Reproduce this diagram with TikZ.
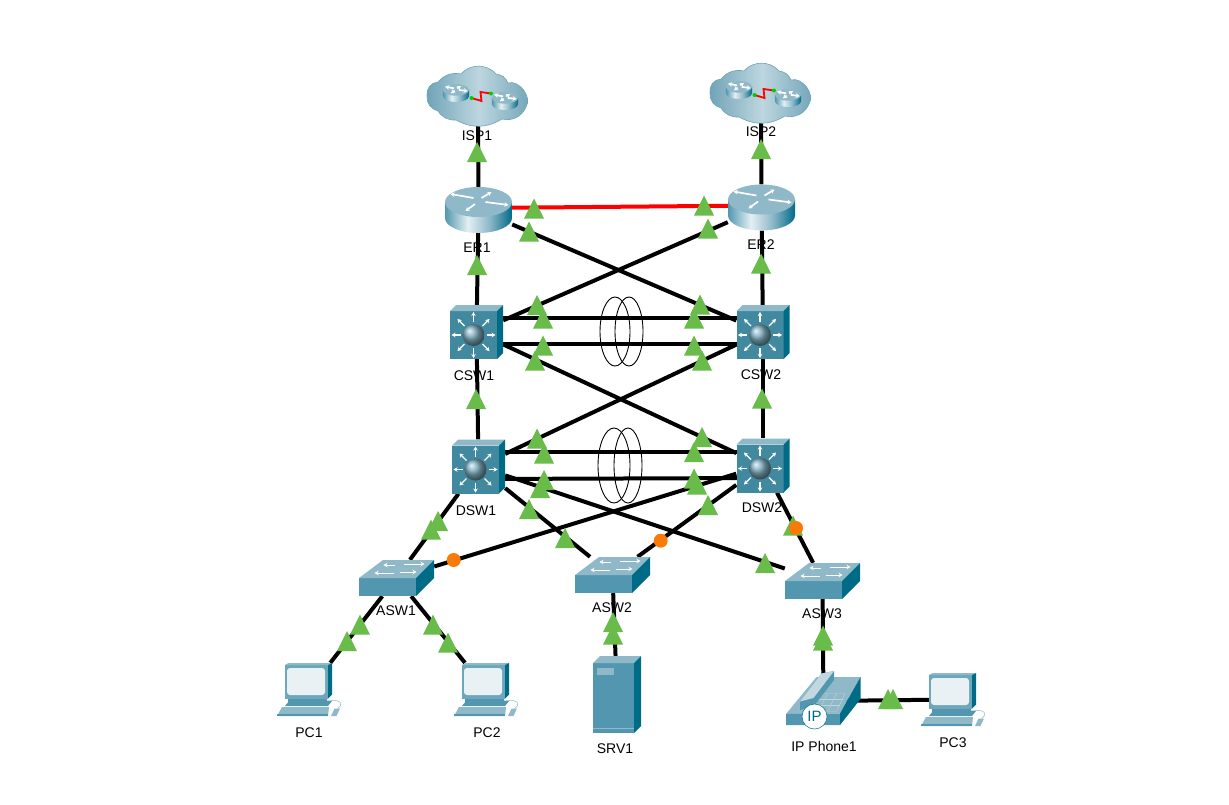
\documentclass[tikz,border=0pt]{standalone}
\usepackage{fontspec}
\setmainfont{Liberation Sans}
\usetikzlibrary{arrows.meta}
\definecolor{icontop}{HTML}{8FB8C9}
\definecolor{iconfront}{HTML}{5297AF}
\definecolor{iconside}{HTML}{006B86}
\definecolor{iconmls}{HTML}{41899F}
\definecolor{markgreen}{HTML}{69BC4A}
\definecolor{markorange}{HTML}{F97A06}
\definecolor{linkred}{HTML}{FF0000}
\definecolor{cloudedge}{HTML}{6FA3B7}
\definecolor{cloudmid}{HTML}{BDD6DF}
\definecolor{routermid}{HTML}{E4EFF3}
\pgfdeclarehorizontalshading{routerbody}{100bp}{color(0bp)=(iconfront); color(25bp)=(iconfront); color(42bp)=(routermid); color(58bp)=(icontop); color(75bp)=(iconside); color(100bp)=(iconside)}
\pgfdeclarehorizontalshading{cloudbody}{100bp}{color(0bp)=(cloudedge); color(25bp)=(cloudedge); color(50bp)=(cloudmid); color(75bp)=(cloudedge); color(100bp)=(cloudedge)}
\def\uptri(#1,#2){\fill[markgreen] (#1-10,#2+10) -- (#1+10,#2+10) -- (#1,#2-10) -- cycle;}
\tikzset{
	link/.style={line width=4pt, color=black},
	redlink/.style={line width=4pt, color=linkred},
	bundle/.style={line width=0.9pt, color=black},
	devlabel/.style={inner sep=0pt, font=\fontsize{14}{16}\selectfont},
	cloudbox/.style={inner sep=0pt, minimum width=103pt, minimum height=57pt},
	routerbox/.style={inner sep=0pt, minimum width=67pt, minimum height=46pt},
	mlsbox/.style={inner sep=0pt, minimum width=53pt, minimum height=54pt},
	accessbox/.style={inner sep=0pt, minimum width=75pt, minimum height=36pt},
	pcbox/.style={inner sep=0pt, minimum width=65pt, minimum height=53pt},
	srvbox/.style={inner sep=0pt, minimum width=48pt, minimum height=77pt},
	phonebox/.style={inner sep=0pt, minimum width=75pt, minimum height=54pt},
	whitearrow/.style={color=white, line width=1.1pt, -{Stealth[length=4pt,width=4.5pt]}},
	routerpic/.pic={
		\path[shading=routerbody] (-33.5,-8) -- (-33.5,8) arc (180:0:33.5 and 15) -- (33.5,-8) -- cycle;
		\fill[icontop] (0,-8) ellipse (33.5 and 15);
		\draw[whitearrow, line width=1.7pt] (-5,-12) -- (-28,-16);
		\draw[whitearrow, line width=1.7pt] (3,-12) -- (13,-18);
		\draw[whitearrow, line width=1.7pt] (-3.5,-6) -- (-13,1);
		\draw[whitearrow, line width=1.7pt] (7,-8) -- (30,-5);
	},
	cloudpic/.pic={
		\path[shading=cloudbody]
			(-51,0) to[bend left=50] (-40,-14) to[bend left=30] (-17,-22) to[bend left=50] (18,-22)
			to[bend left=30] (30,-13) to[bend left=70] (48,11) to[bend left=40] (24,23)
			to[bend left=30] (-22,24) to[bend left=30] (-40,15) to[bend left=40] cycle;
		\draw[cloudedge, line width=0.6pt]
			(-51,0) to[bend left=50] (-40,-14) to[bend left=30] (-17,-22) to[bend left=50] (18,-22)
			to[bend left=30] (30,-13) to[bend left=70] (48,11) to[bend left=40] (24,23)
			to[bend left=30] (-22,24) to[bend left=30] (-40,15) to[bend left=40] cycle;
		\pic[scale=0.39] at (-22,-3) {routerpic};
		\pic[scale=0.39] at (27,5) {routerpic};
		\draw[redlink, line width=1.8pt] (-6.5,2) -- (3.5,5) -- (2.5,-4) -- (13,-2.5);
		\fill[green!80!black] (-6.5,2) circle (2);
		\fill[green!80!black] (13,-2.5) circle (2);
	},
	mlspic/.pic={
		\fill[iconmls] (-26.5,-21) rectangle (20.5,27);
		\fill[icontop] (-26.5,-21) -- (-20.5,-27) -- (26.5,-27) -- (20.5,-21) -- cycle;
		\fill[iconside] (20.5,-21) -- (26.5,-27) -- (26.5,21) -- (20.5,27) -- cycle;
		\draw[whitearrow] (-3,-10) -- (-3,-20);
		\draw[whitearrow] (-3,16) -- (-3,26);
		\draw[whitearrow] (-16,3) -- (-25,3);
		\draw[whitearrow] (10,3) -- (19,3);
		\draw[whitearrow] (-12,-6) -- (-19,-13);
		\draw[whitearrow] (6,-6) -- (13,-13);
		\draw[whitearrow] (-12,12) -- (-19,19);
		\draw[whitearrow] (6,12) -- (13,19);
		\shade[ball color=icontop!75!iconmls] (-3,3) circle (11);
	},
	accesspic/.pic={
		\fill[iconfront] (-37.5,0) rectangle (19.5,18);
		\fill[icontop] (-37.5,0) -- (-13.5,-18) -- (37.5,-18) -- (19.5,0) -- cycle;
		\fill[iconside] (19.5,0) -- (37.5,-18) -- (37.5,0) -- (19.5,18) -- cycle;
		\draw[whitearrow, line width=0.8pt] (-2,-13) -- (-13,-13);
		\draw[whitearrow, line width=0.8pt] (7,-14) -- (28,-14);
		\draw[whitearrow, line width=0.8pt] (-3,-5) -- (-22,-5);
		\draw[whitearrow, line width=0.8pt] (3,-6) -- (20,-6);
	},
	pcpic/.pic={
		\fill[iconfront!85!white] (-24.5,-24.5) rectangle (18.5,9);
		\fill[icontop] (-24.5,-24.5) -- (-21,-26.5) -- (22.5,-26.5) -- (18.5,-24.5) -- cycle;
		\fill[iconside] (18.5,-24.5) -- (22.5,-26.5) -- (22.5,5) -- (18.5,9) -- cycle;
		\fill[white!80!icontop, rounded corners=3pt] (-22.5,-21.5) rectangle (15.5,5.5);
		\fill[iconfront] (-21.5,9) rectangle (17,12.5);
		\fill[iconfront] (-24.5,16.5) -- (18.5,16.5) -- (23,11) -- (-20,11) -- cycle;
		\fill[icontop] (-32.5,26.5) -- (18.5,26.5) -- (19.5,17.5) -- (-27.5,17.5) -- cycle;
		\fill[iconfront] (-32.5,24.8) rectangle (18.5,26.5);
		\fill[icontop] (21.5,26.5) -- (27,26.5) -- (30.5,19) -- (25,19) -- cycle;
		\draw[icontop, line width=0.5pt] (28,19) .. controls (35,14) and (30,10) .. (22,11);
	},
	srvpic/.pic={
		\fill[iconfront] (-24,-31.5) rectangle (17,38.5);
		\fill[icontop] (-24,-31.5) -- (-17,-38.5) -- (24,-38.5) -- (17,-31.5) -- cycle;
		\fill[iconside] (17,-31.5) -- (24,-38.5) -- (24,31.5) -- (17,38.5) -- cycle;
		\fill[icontop] (-20,-26.5) rectangle (-3,-19.5);
		\draw[icontop, line width=0.7pt] (-24,33.5) -- (17,33.5);
	},
	phonepic/.pic={
		\fill[icontop] (-37.5,13) -- (-7,-24) -- (37,-24) -- (16.5,12.5) -- cycle;
		\fill[iconfront] (-37.5,13) -- (16.5,12.5) -- (16.5,24) -- (-37.5,24) -- cycle;
		\fill[iconside] (16.5,12.5) -- (37,-24) -- (37,-2) -- (16.5,24) -- cycle;
		\draw[white!40!icontop, line width=0.4pt] (-5,-7.5) -- (21.5,-7.5) -- (13,10.5) -- (-14,10.5) -- cycle;
		\draw[white!40!icontop, line width=0.4pt] (-8,-2) -- (19,-2);
		\draw[white!40!icontop, line width=0.4pt] (-11,4) -- (16,4);
		\draw[white!40!icontop, line width=0.4pt] (4,-7.5) -- (-5,10.5);
		\draw[white!40!icontop, line width=0.4pt] (13,-7.5) -- (4,10.5);
		\fill[iconfront] (-23.5,0.5) -- (-2,-27.5) -- (10.5,-30) -- (10.5,-21) -- (-10,5.5) -- (-23.5,9) -- cycle;
		\fill[white!45!icontop] (-23.5,0.5) -- (-2,-27.5) -- (10.5,-30) -- (-10,-3) -- cycle;
	},
}

\begin{document}
\begin{tikzpicture}[x=1pt, y=-1pt]
			%%%%% START %%%%%
			\useasboundingbox (0,0) rectangle (1229,804);
			
			\node[cloudbox] (isp1) at (478,96) {};
			\node[cloudbox] (isp2) at (761,93) {};
			\node[routerbox] (er1) at (478.5,210) {};
			\node[routerbox] (er2) at (761.5,207.5) {};
			\node[mlsbox] (csw1) at (476.5,332) {};
			\node[mlsbox] (csw2) at (763,332) {};
			\node[mlsbox] (dsw1) at (478.5,466.5) {};
			\node[mlsbox] (dsw2) at (763,465.5) {};
			\node[accessbox] (asw1) at (396.5,578) {};
			\node[accessbox] (asw2) at (612.5,575) {};
			\node[accessbox] (asw3) at (822.5,581) {};
			\node[pcbox] (pc1) at (309.5,689.5) {};
			\node[pcbox] (pc2) at (486.5,689.5) {};
			\node[pcbox] (pc3) at (953.5,699.5) {};
			\node[srvbox] (srv1) at (617,694.5) {};
			\node[phonebox] (phone1) at (823.5,701) {};
			
			\draw[bundle] (615,331.5) ellipse (15 and 34.5);
			\draw[bundle] (629,331.5) ellipse (14 and 34.5);
			\draw[bundle] (614,465.5) ellipse (16 and 37.5);
			\draw[bundle] (628,465.5) ellipse (14 and 37.5);
			
			\draw[link] (isp1) -- (er1);
			\draw[link] (isp2) -- (er2);
			\draw[link] (er1) -- (csw1);
			\draw[link] (er2) -- (csw2);
			\draw[link] (er1) -- (csw2);
			\draw[link] (er2) -- (csw1);
			\draw[redlink] ([yshift=2pt]er1.center) -- ([yshift=2pt]er2.center);
			\draw[link] ([yshift=14pt]csw1.center) -- ([yshift=14pt]csw2.center);
			\draw[link] ([yshift=-12pt]csw1.center) -- ([yshift=-12pt]csw2.center);
			\draw[link] (csw1) -- (dsw1);
			\draw[link] (csw2) -- (dsw2);
			\draw[link] (csw1) -- (dsw2);
			\draw[link] (csw2) -- (dsw1);
			\draw[link] ([yshift=14.5pt]dsw1.center) -- ([yshift=13.5pt]dsw2.center);
			\draw[link] ([yshift=-12.5pt]dsw1.center) -- ([yshift=-12.5pt]dsw2.center);
			\draw[link] (dsw1) -- (asw1);
			\draw[link] (dsw1) -- (asw2);
			\draw[link] (dsw1) -- (asw3);
			\draw[link] (dsw2) -- (asw1);
			\draw[link] (dsw2) -- (asw2);
			\draw[link] (dsw2) -- (asw3);
			\draw[link] (asw1) -- (pc1);
			\draw[link] (asw1) -- (pc2);
			\draw[link] (asw2) -- (srv1);
			\draw[link] (asw3) -- (phone1);
			\draw[link] (phone1.center) -- (pc3.center);
			
			\pic at (isp1.center) {cloudpic};
			\pic at (isp2.center) {cloudpic};
			\pic at (er1.center) {routerpic};
			\pic at (er2.center) {routerpic};
			\pic at (csw1.center) {mlspic};
			\pic at (csw2.center) {mlspic};
			\pic at (dsw1.center) {mlspic};
			\pic at (dsw2.center) {mlspic};
			\pic at (asw1.center) {accesspic};
			\pic at (asw2.center) {accesspic};
			\pic at (asw3.center) {accesspic};
			\pic at (pc1.center) {pcpic};
			\pic at (pc2.center) {pcpic};
			\pic at (pc3.center) {pcpic};
			\pic at (srv1.center) {srvpic};
			\pic at (phone1.center) {phonepic};
			\node[circle, draw=iconside, fill=white, line width=0.5pt, minimum size=25pt, inner sep=0pt, text=iconside, font=\fontsize{15}{15}\selectfont] (ipmark) at (814.5,716.5) {IP};
			
			\uptri(477,152);
			\uptri(761,149);
			\uptri(477,265);
			\uptri(761,263.5);
			\uptri(534,208.5);
			\uptri(704,205.5);
			\uptri(529,231.5);
			\uptri(708,228.5);
			
			\uptri(537,305);
			\uptri(543,318.5);
			\uptri(700,304.5);
			\uptri(694,318.5);
			\uptri(543,345.5);
			\uptri(535,360.5);
			\uptri(694,345.5);
			\uptri(702,360.5);
			\uptri(476,399);
			\uptri(762,398.5);
			
			\uptri(537,438.5);
			\uptri(544,453.5);
			\uptri(702,437);
			\uptri(694,452);
			\uptri(544,480);
			\uptri(540,488);
			\uptri(694,478.5);
			\uptri(697,484.5);
			\uptri(529,509);
			\uptri(708,505);
			\uptri(793,525.5);
			
			\uptri(438,521);
			\uptri(431,529.5);
			\uptri(565,538);
			\uptri(765,563);
			\uptri(360,624.5);
			\uptri(347,641);
			\uptri(433,624.5);
			\uptri(448,642.5);
			\uptri(613,622);
			\uptri(613,634.5);
			\uptri(823,635.5);
			\uptri(823,640.5);
			\uptri(888,699);
			\uptri(893,699);
			
			\fill[markorange] (453.7,560) circle (7);
			\fill[markorange] (660.7,540.7) circle (7);
			\fill[markorange] (796,528) circle (7);
			
			\node[devlabel] (isp1name) at (477,136) {ISP1};
			\node[devlabel] (isp2name) at (761,132) {ISP2};
			\node[devlabel] (er1name) at (477,248) {ER1};
			\node[devlabel] (er2name) at (761,245) {ER2};
			\node[devlabel] (csw1name) at (474,376) {CSW1};
			\node[devlabel] (csw2name) at (761,375) {CSW2};
			\node[devlabel] (dsw1name) at (476,511) {DSW1};
			\node[devlabel] (dsw2name) at (762,508) {DSW2};
			\node[devlabel] (asw1name) at (396,611) {ASW1};
			\node[devlabel] (asw2name) at (612,608) {ASW2};
			\node[devlabel] (asw3name) at (822,614) {ASW3};
			\node[devlabel] (pc1name) at (309,733) {PC1};
			\node[devlabel] (pc2name) at (487,733) {PC2};
			\node[devlabel] (srv1name) at (615,749) {SRV1};
			\node[devlabel] (phone1name) at (824,746) {IP Phone1};
			\node[devlabel] (pc3name) at (953,743) {PC3};
			
			%%%%% END %%%%%
		\end{tikzpicture}
\end{document}
